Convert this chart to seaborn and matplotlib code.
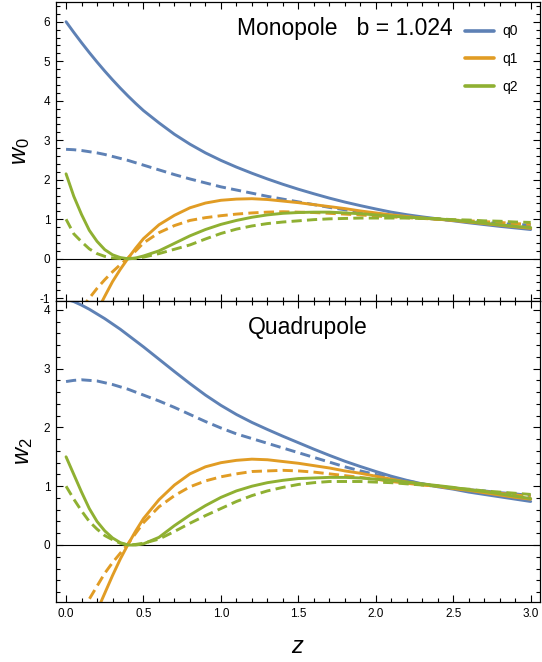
import numpy as np
import pandas as pd
import matplotlib
matplotlib.use("Agg")
import matplotlib.pyplot as plt
from matplotlib.lines import Line2D
from matplotlib.ticker import MultipleLocator
import seaborn as sns

# Colores por defecto de Mathematica
PALETTE = {"q0": "#5E81B5", "q1": "#E19C24", "q2": "#8FB032"}

# Malla en z (más fina cerca del mínimo)
Z = [0.0, 0.05, 0.1, 0.15, 0.2, 0.25, 0.3, 0.35, 0.4, 0.45, 0.5,
     0.6, 0.7, 0.8, 0.9, 1.0, 1.1, 1.2, 1.3, 1.4, 1.5, 1.6, 1.7, 1.8, 1.9,
     2.0, 2.1, 2.2, 2.3, 2.4, 2.5, 2.6, 2.7, 2.8, 2.9, 3.0]

# --- Monopolo (w0) ---
W0_Q0_FULL = [6.00, 5.73, 5.47, 5.22, 4.98, 4.75, 4.53, 4.32, 4.12, 3.93, 3.75,
              3.44, 3.15, 2.90, 2.68, 2.49, 2.32, 2.165, 2.02, 1.885, 1.76, 1.645, 1.535, 1.435, 1.345,
              1.26, 1.18, 1.115, 1.06, 1.01, 0.96, 0.91, 0.865, 0.82, 0.78, 0.74]
W0_Q0_DASH = [2.77, 2.76, 2.74, 2.71, 2.68, 2.64, 2.59, 2.54, 2.49, 2.43, 2.37,
              2.25, 2.13, 2.02, 1.92, 1.82, 1.74, 1.66, 1.58, 1.51, 1.44, 1.37, 1.30, 1.24, 1.19,
              1.14, 1.10, 1.06, 1.03, 1.00, 0.97, 0.94, 0.92, 0.89, 0.87, 0.85]
W0_Q1_FULL = [None, None, None, None, -1.33, -0.95, -0.58, -0.27, 0.01, 0.27, 0.51,
              0.86, 1.10, 1.29, 1.41, 1.48, 1.51, 1.52, 1.50, 1.46, 1.42, 1.37, 1.32, 1.27, 1.21,
              1.16, 1.11, 1.07, 1.03, 1.00, 0.97, 0.93, 0.89, 0.85, 0.81, 0.77]
W0_Q1_DASH = [None, None, -1.25, -1.00, -0.75, -0.53, -0.33, -0.15, 0.02, 0.20, 0.40,
              0.66, 0.84, 0.97, 1.04, 1.09, 1.13, 1.16, 1.18, 1.19, 1.18, 1.17, 1.15, 1.13, 1.11,
              1.08, 1.06, 1.04, 1.02, 1.00, 0.98, 0.96, 0.94, 0.92, 0.89, 0.87]
W0_Q2_FULL = [2.15, 1.58, 1.12, 0.72, 0.44, 0.23, 0.10, 0.03, 0.00, 0.02, 0.07,
              0.20, 0.39, 0.58, 0.74, 0.87, 0.97, 1.05, 1.11, 1.15, 1.17, 1.18, 1.18, 1.16, 1.14,
              1.11, 1.08, 1.05, 1.03, 1.01, 0.98, 0.94, 0.90, 0.86, 0.82, 0.79]
W0_Q2_DASH = [1.00, 0.63, 0.43, 0.25, 0.13, 0.06, 0.02, 0.005, 0.00, 0.01, 0.04,
              0.13, 0.24, 0.35, 0.50, 0.64, 0.75, 0.83, 0.89, 0.93, 0.96, 0.99, 1.01, 1.02, 1.03,
              1.03, 1.03, 1.03, 1.02, 1.01, 0.99, 0.98, 0.96, 0.95, 0.93, 0.92]

# --- Cuadrupolo (w2) ---
W2_Q0_FULL = [4.18, 4.14, 4.08, 4.01, 3.93, 3.85, 3.76, 3.67, 3.57, 3.47, 3.37,
              3.16, 2.95, 2.745, 2.55, 2.375, 2.22, 2.085, 1.965, 1.85, 1.74, 1.63, 1.525, 1.425, 1.335,
              1.25, 1.17, 1.10, 1.04, 0.99, 0.95, 0.90, 0.86, 0.82, 0.78, 0.74]
W2_Q0_DASH = [2.78, 2.80, 2.81, 2.80, 2.79, 2.76, 2.73, 2.69, 2.65, 2.60, 2.55,
              2.45, 2.34, 2.22, 2.10, 1.99, 1.89, 1.81, 1.73, 1.65, 1.57, 1.49, 1.41, 1.33, 1.26,
              1.20, 1.14, 1.09, 1.04, 1.00, 0.97, 0.94, 0.92, 0.89, 0.87, 0.84]
W2_Q1_FULL = [None, None, None, None, -1.12, -0.82, -0.52, -0.24, 0.01, 0.24, 0.45,
              0.77, 1.02, 1.21, 1.33, 1.40, 1.44, 1.46, 1.45, 1.42, 1.39, 1.35, 1.31, 1.26, 1.22,
              1.17, 1.12, 1.07, 1.03, 1.00, 0.96, 0.93, 0.89, 0.85, 0.81, 0.78]
W2_Q1_DASH = [None, None, -1.14, -0.92, -0.70, -0.48, -0.30, -0.14, 0.02, 0.20, 0.38,
              0.65, 0.84, 0.99, 1.09, 1.16, 1.21, 1.25, 1.26, 1.27, 1.26, 1.24, 1.21, 1.18, 1.15,
              1.12, 1.08, 1.05, 1.02, 1.00, 0.97, 0.94, 0.91, 0.88, 0.85, 0.83]
W2_Q2_FULL = [1.50, 1.20, 0.90, 0.62, 0.40, 0.24, 0.12, 0.04, 0.00, 0.00, 0.02,
              0.13, 0.33, 0.51, 0.67, 0.81, 0.92, 1.00, 1.06, 1.10, 1.13, 1.14, 1.15, 1.15, 1.14,
              1.12, 1.10, 1.07, 1.04, 1.01, 0.98, 0.94, 0.91, 0.87, 0.83, 0.79]
W2_Q2_DASH = [1.00, 0.78, 0.58, 0.40, 0.27, 0.16, 0.09, 0.03, 0.00, 0.01, 0.03,
              0.10, 0.23, 0.37, 0.50, 0.62, 0.74, 0.84, 0.92, 0.98, 1.03, 1.06, 1.08, 1.08, 1.08,
              1.07, 1.06, 1.04, 1.02, 1.00, 0.97, 0.95, 0.92, 0.90, 0.88, 0.86]

CURVES = [
    ("w0", "q0", "full", W0_Q0_FULL), ("w0", "q0", "dash", W0_Q0_DASH),
    ("w0", "q1", "full", W0_Q1_FULL), ("w0", "q1", "dash", W0_Q1_DASH),
    ("w0", "q2", "full", W0_Q2_FULL), ("w0", "q2", "dash", W0_Q2_DASH),
    ("w2", "q0", "full", W2_Q0_FULL), ("w2", "q0", "dash", W2_Q0_DASH),
    ("w2", "q1", "full", W2_Q1_FULL), ("w2", "q1", "dash", W2_Q1_DASH),
    ("w2", "q2", "full", W2_Q2_FULL), ("w2", "q2", "dash", W2_Q2_DASH),
]

rows = []
for panel, q, kind, vals in CURVES:
    for z, w in zip(Z, vals):
        if w is not None:
            rows.append({"panel": panel, "q": q, "kind": kind, "z": z, "w": w})
df = pd.DataFrame(rows)

sns.set_theme(style="ticks")
plt.rcParams["font.family"] = ["Liberation Sans", "DejaVu Sans"]
plt.rcParams["mathtext.fontset"] = "custom"
plt.rcParams["mathtext.it"] = "Liberation Sans:italic"
plt.rcParams["mathtext.rm"] = "Liberation Sans"
plt.rcParams["axes.unicode_minus"] = False
plt.rcParams["text.color"] = "black"
plt.rcParams["axes.labelcolor"] = "black"

fig = plt.figure(figsize=(5.42, 6.62), dpi=100)
ax_top = fig.add_axes([0.1033, 0.5453, 0.893, 0.4517])
ax_bot = fig.add_axes([0.1033, 0.0906, 0.893, 0.4547])

PANELS = [
    (ax_top, "w0", (-1.07, 6.5), "$w_0$"),
    (ax_bot, "w2", (-0.97, 4.15), "$w_2$"),
]

for ax, panel, ylim, ylabel in PANELS:
    ax.axhline(0, color="black", lw=0.8, zorder=1)
    sns.lineplot(
        data=df[df["panel"] == panel], x="z", y="w",
        hue="q", style="kind", hue_order=["q0", "q1", "q2"],
        style_order=["full", "dash"], palette=PALETTE,
        dashes={"full": "", "dash": (3.5, 1.8)},
        estimator=None, legend=False, linewidth=2.1, ax=ax, zorder=2,
    )
    ax.set_xlim(-0.065, 3.06)
    ax.set_ylim(*ylim)
    ax.xaxis.set_major_locator(MultipleLocator(0.5))
    ax.xaxis.set_minor_locator(MultipleLocator(0.1))
    ax.yaxis.set_major_locator(MultipleLocator(1))
    ax.yaxis.set_minor_locator(MultipleLocator(0.2))
    ax.tick_params(which="both", direction="in", top=True, right=True,
                   width=0.8, labelsize=8.5, colors="black", pad=4)
    ax.tick_params(which="major", length=5)
    ax.tick_params(which="minor", length=2.8)
    for sp in ax.spines.values():
        sp.set_linewidth(0.9)
        sp.set_color("black")
    ax.set_ylabel(ylabel, fontsize=17, labelpad=6)
    ax.set_xlabel("")

ax_top.tick_params(labelbottom=False)
ax_bot.set_xlabel("$z$", fontsize=17, labelpad=12)

ax_top.text(0.597, 0.89, "Monopole   b = 1.024", transform=ax_top.transAxes,
            ha="center", va="baseline", fontsize=16.5)
ax_bot.text(0.521, 0.889, "Quadrupole", transform=ax_bot.transAxes,
            ha="center", va="baseline", fontsize=16.5)

handles = [Line2D([], [], color=PALETTE[q], lw=2.6) for q in ["q0", "q1", "q2"]]
ax_top.legend(handles, ["q0", "q1", "q2"], loc="upper right",
              bbox_to_anchor=(0.955, 0.925), frameon=False, fontsize=10,
              handlelength=2.1, handletextpad=0.6, labelspacing=1.0,
              borderpad=0, borderaxespad=0)

fig.savefig("out.png", dpi=100)
